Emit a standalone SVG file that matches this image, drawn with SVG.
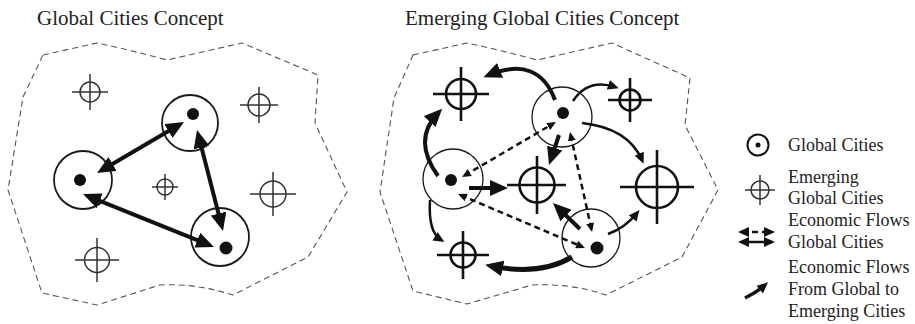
<svg xmlns="http://www.w3.org/2000/svg" width="915" height="324" viewBox="0 0 915 324">
  <style>
    .title { font-family: "Liberation Serif", "Times New Roman", serif; font-size: 21px; fill: #222; }
    .label { font-family: "Liberation Serif", "Times New Roman", serif; font-size: 18px; fill: #222; }
    .boundary { fill: none; stroke: #555; stroke-width: 1.1; stroke-dasharray: 6 4; }
    .gc { fill: #fff; stroke: #1a1a1a; stroke-width: 1.8; }
    .gc-thin { fill: #fff; stroke: #1a1a1a; stroke-width: 1.3; }
    .dot { fill: #111; }
    .ec { fill: none; stroke: #333; stroke-width: 1.5; }
    .ec-bold { fill: none; stroke: #111; stroke-width: 2.6; }
    .flow { fill: none; stroke: #111; stroke-width: 4; }
    .flow-thin { fill: none; stroke: #111; stroke-width: 2.5; }
    .flow-dash { fill: none; stroke: #111; stroke-width: 2.5; stroke-dasharray: 6 4; }
  </style>
  <defs>
    <marker id="head-big" markerUnits="userSpaceOnUse" viewBox="0 0 18 16" markerWidth="18" markerHeight="16" refX="12" refY="8" orient="auto-start-reverse">
      <path d="M0,0 L18,8 L0,16 z" fill="#111"/>
    </marker>
    <marker id="head-mid" markerUnits="userSpaceOnUse" viewBox="0 0 11 10" markerWidth="11" markerHeight="10" refX="7" refY="5" orient="auto-start-reverse">
      <path d="M0,0 L11,5 L0,10 z" fill="#111"/>
    </marker>
    <marker id="head-small" markerUnits="userSpaceOnUse" viewBox="0 0 9 8" markerWidth="9" markerHeight="8" refX="6" refY="4" orient="auto-start-reverse">
      <path d="M0,0 L9,4 L0,8 z" fill="#111"/>
    </marker>
  </defs>

  <rect width="915" height="324" fill="#fff"/>

  <!-- Titles -->
  <text class="title" x="37" y="25">Global Cities Concept</text>
  <text class="title" x="405" y="25">Emerging Global Cities Concept</text>

  <!-- Region boundaries -->
  <path id="region-left" class="boundary" d="M43,55 L97,43 Q130,50 167,60 L242,43 L318,75 L315,123 L347,192 L308,257 L233,295 Q195,283 160,285 L97,305 L42,293 L8,190 L23,97 Z"/>
  <path id="region-right" class="boundary" d="M413,55 L467,43 Q500,50 537,60 L612,43 L690,78 L685,125 L718,190 L682,257 L606,295 Q570,283 532,285 L467,304 L413,291 L380,192 L394,98 Z"/>

  <!-- Left panel: global cities -->
  <g id="l-global-top"><circle class="gc" cx="190" cy="123" r="28"/><circle class="dot" cx="193" cy="114" r="6"/></g>
  <g id="l-global-left"><circle class="gc" cx="83" cy="180" r="29"/><circle class="dot" cx="80" cy="180" r="6"/></g>
  <g id="l-global-bottom"><circle class="gc" cx="220" cy="237" r="29"/><circle class="dot" cx="226" cy="248" r="6.5"/></g>

  <!-- Left panel: emerging cities -->
  <g id="l-emerging-1"><circle class="ec" cx="90" cy="92" r="10"/><path class="ec" d="M72,92 H108 M90,74 V110"/></g>
  <g id="l-emerging-2"><circle class="ec" cx="259" cy="105" r="11"/><path class="ec" d="M240,105 H278 M259,87 V123"/></g>
  <g id="l-emerging-3"><circle class="ec" cx="165" cy="187" r="8"/><path class="ec" d="M152,187 H178 M165,174 V200"/></g>
  <g id="l-emerging-4"><circle class="ec" cx="273" cy="194" r="13"/><path class="ec" d="M250,194 H296 M273,172 V216"/></g>
  <g id="l-emerging-5"><circle class="ec" cx="97" cy="260" r="12.5"/><path class="ec" d="M75,260 H119 M97,238 V282"/></g>

  <!-- Right panel: global cities -->
  <g id="r-global-top"><circle class="gc-thin" cx="562" cy="117" r="30"/><circle class="dot" cx="563" cy="113" r="6"/></g>
  <g id="r-global-left"><circle class="gc-thin" cx="453" cy="179" r="30"/><circle class="dot" cx="451" cy="180" r="6"/></g>
  <g id="r-global-bottom"><circle class="gc-thin" cx="591" cy="238" r="29"/><circle class="dot" cx="597" cy="248" r="6.5"/></g>

  <!-- Right panel: emerging cities -->
  <g id="r-emerging-topleft"><circle class="ec-bold" cx="461" cy="94" r="15"/><path class="ec-bold" d="M433,94 H489 M461,67 V121"/></g>
  <g id="r-emerging-topright"><circle class="ec-bold" cx="630" cy="100" r="10.5"/><path class="ec-bold" d="M608,100 H652 M630,78 V122"/></g>
  <g id="r-emerging-center"><circle class="ec-bold" cx="537" cy="185" r="17.5"/><path class="ec-bold" d="M507,185 H566 M537,156 V214"/></g>
  <g id="r-emerging-right"><circle class="ec-bold" cx="657" cy="187" r="21"/><path class="ec-bold" d="M620,187 H694 M657,150 V224"/></g>
  <g id="r-emerging-bottomleft"><circle class="ec-bold" cx="463" cy="255" r="12.5"/><path class="ec-bold" d="M437,255 H489 M463,231 V279"/></g>

  <!-- Connectors -->
  <g id="connectors">
    <!-- global-to-global flows, left panel -->
    <path class="flow" d="M102.2,170 L178.8,125" marker-start="url(#head-big)" marker-end="url(#head-big)"/>
    <path class="flow" d="M198.5,135.8 L221.5,225.2" marker-start="url(#head-big)" marker-end="url(#head-big)"/>
    <path class="flow" d="M88.6,196.3 L208.4,244.7" marker-start="url(#head-big)" marker-end="url(#head-big)"/>

    <!-- global-to-global flows, right panel (dashed) -->
    <path class="flow-dash" d="M464.6,175.5 L553.4,123.5" marker-start="url(#head-small)" marker-end="url(#head-small)"/>
    <path class="flow-dash" d="M570.6,134.9 L591.4,229.1" marker-start="url(#head-small)" marker-end="url(#head-small)"/>
    <path class="flow-dash" d="M460.8,195.2 L582.2,246.8" marker-start="url(#head-small)" marker-end="url(#head-small)"/>

    <!-- global-to-emerging flows, right panel -->
    <path class="flow" d="M555,100 Q538,55 489,75" marker-end="url(#head-big)"/>
    <path class="flow" d="M438,176 Q412,140 438,113" marker-end="url(#head-big)"/>
    <path class="flow" d="M469,188 L502,188" marker-end="url(#head-big)"/>
    <path class="flow" d="M559,135 L550.9,159.3" marker-end="url(#head-big)"/>
    <path class="flow" d="M580,229 L557.3,207.2" marker-end="url(#head-big)"/>
    <path class="flow" style="stroke-width:5" d="M572,257 Q540,276 491,266" marker-end="url(#head-big)"/>
    <path class="flow-thin" d="M430,200 Q428,232 441,240" marker-end="url(#head-mid)"/>
    <path class="flow-thin" d="M573,101 Q588,78 615,87" marker-end="url(#head-mid)"/>
    <path class="flow-thin" d="M582,123 Q628,128 642,160" marker-end="url(#head-mid)"/>
    <path class="flow-thin" d="M608,234 Q625,228 637,213" marker-end="url(#head-mid)"/>
  </g>

  <!-- Legend -->
  <g id="legend">
    <g id="legend-global">
      <circle fill="#fff" stroke="#111" stroke-width="2" cx="758" cy="145" r="10.5"/>
      <circle class="dot" cx="758" cy="145" r="2.5"/>
      <text class="label" x="788" y="151">Global Cities</text>
    </g>
    <g id="legend-emerging">
      <circle class="ec" cx="760" cy="190" r="9"/>
      <path class="ec" d="M745,190 H775 M760,175 V205"/>
      <text class="label" x="788" y="183">Emerging</text>
      <text class="label" x="788" y="204">Global Cities</text>
    </g>
    <g id="legend-global-flows">
      <path class="flow-dash" style="stroke-dasharray:6 4" d="M742,232 L771,232" marker-start="url(#head-mid)" marker-end="url(#head-mid)"/>
      <path class="flow-thin" d="M742,242 L771,242" marker-start="url(#head-mid)" marker-end="url(#head-mid)"/>
      <text class="label" x="788" y="226">Economic Flows</text>
      <text class="label" x="788" y="248">Global Cities</text>
    </g>
    <g id="legend-emerging-flows">
      <path class="flow" style="stroke-width:3.5" d="M745,298 Q757,292 765,285" marker-end="url(#head-mid)"/>
      <text class="label" x="788" y="273">Economic Flows</text>
      <text class="label" x="788" y="295">From Global to</text>
      <text class="label" x="788" y="317">Emerging Cities</text>
    </g>
  </g>
</svg>
